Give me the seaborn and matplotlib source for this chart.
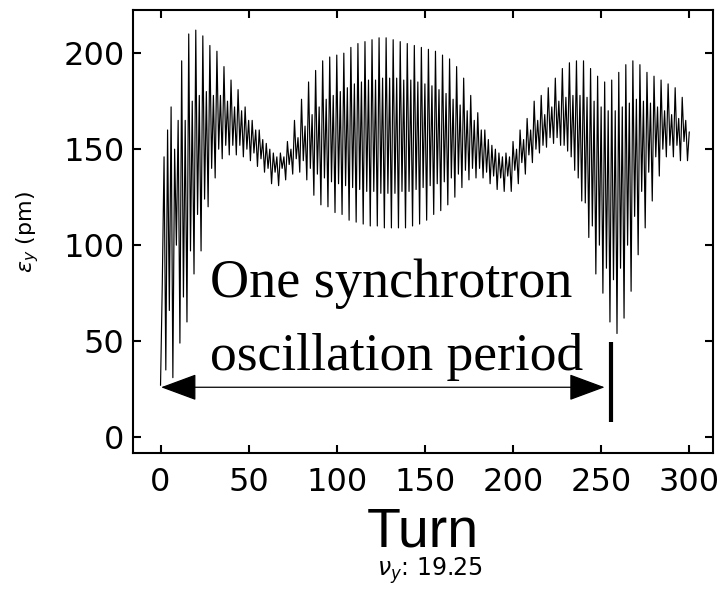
import matplotlib
matplotlib.use("Agg")
import matplotlib.pyplot as plt
from matplotlib.patches import FancyArrowPatch, ArrowStyle
import numpy as np
import pandas as pd
import seaborn as sns

# Vertical emittance per turn, grouped in 4-turn betatron cycles (nu_y = 19.25).
# Each cycle k covers turns 4k .. 4k+3: outer top, inner bottom, inner top, outer bottom.
outer_upper = [27, 160, 150, 196, 210, 212, 209, 204, 201, 193, 186, 181, 172, 165, 160,
               153, 148, 148, 154, 165, 176, 185, 191, 196, 198, 199, 200, 203, 205, 206,
               207, 208, 208, 207, 206, 205, 204, 203, 202, 201, 199, 197, 193, 187, 178,
               169, 160, 152, 148, 148, 154, 160, 166, 175, 178, 182, 187, 192, 195, 196,
               196, 192, 188, 185, 186, 190, 194, 196, 194, 190, 188, 186, 184, 182, 177,
               159]
inner_lower = [80, 66, 100, 73, 97, 116, 124, 140, 150, 152, 152, 152, 150, 148, 145,
               140, 138, 140, 142, 145, 144, 140, 137, 135, 133, 132, 131, 130, 129, 128,
               128, 127, 127, 127, 128, 128, 129, 130, 131, 132, 133, 135, 137, 139, 140,
               140, 138, 136, 135, 136, 139, 143, 147, 150, 152, 156, 156, 152, 146, 135,
               122, 110, 100, 88, 82, 88, 100, 115, 128, 138, 146, 150, 152, 152, 154]
inner_upper = [146, 172, 165, 165, 175, 178, 180, 178, 178, 175, 172, 170, 165, 160, 155,
               150, 146, 146, 150, 156, 162, 168, 172, 176, 178, 180, 182, 184, 185, 186,
               186, 187, 187, 187, 186, 186, 185, 184, 183, 181, 179, 176, 173, 170, 165,
               160, 155, 150, 146, 146, 150, 155, 160, 165, 168, 172, 175, 177, 178, 178,
               177, 175, 172, 170, 170, 172, 174, 176, 175, 174, 172, 170, 168, 166, 165]
outer_lower = [35, 31, 49, 60, 85, 97, 120, 135, 145, 147, 147, 146, 144, 141, 138,
               132, 131, 134, 137, 138, 134, 126, 121, 120, 117, 116, 113, 112, 111, 110,
               110, 109, 109, 109, 109, 110, 111, 113, 116, 118, 121, 125, 130, 134, 135,
               135, 132, 129, 128, 128, 132, 137, 143, 148, 151, 153, 152, 149, 139, 123,
               104, 85, 75, 60, 54, 62, 76, 95, 109, 123, 136, 146, 146, 144, 144]

x_ticks = [0, 50, 100, 150, 200, 250, 300]
y_ticks = [0, 50, 100, 150, 200]

turns, eps = [], []
for k in range(len(inner_lower)):
    for j, series in enumerate((outer_upper, inner_lower, inner_upper, outer_lower)):
        turns.append(4 * k + j)
        eps.append(series[k])
turns.append(4 * len(inner_lower))
eps.append(outer_upper[-1])
df = pd.DataFrame({"turn": turns, "eps": eps})

sns.set_style("ticks")
plt.rcParams["font.family"] = ["DejaVu Sans"]
plt.rcParams["text.color"] = "black"
plt.rcParams["axes.labelcolor"] = "black"

fig = plt.figure(figsize=(7.23, 5.97), dpi=100)
ax = fig.add_axes([0.184, 0.241, 0.802, 0.742])

sns.lineplot(data=df, x="turn", y="eps", estimator=None, sort=False,
             color="black", linewidth=0.85, ax=ax)

ax.set_xlim(-15.6, 313.4)
ax.set_ylim(-8.3, 222.4)
ax.set_xticks(x_ticks)
ax.set_yticks(y_ticks)
ax.tick_params(axis="both", which="major", direction="in", length=6, width=1.5,
               top=True, right=True, labelsize=23, colors="black")
ax.tick_params(axis="x", pad=10)
ax.tick_params(axis="y", pad=6)
for sp in ax.spines.values():
    sp.set_visible(True)
    sp.set_linewidth(1.5)
    sp.set_color("black")

ax.set_xlabel("Turn", fontsize=40, family="Liberation Sans", labelpad=6)
ax.set_ylabel(r"$\varepsilon_y$ (pm)", fontsize=16, labelpad=16)

fig.text(0.594, 0.035, r"$\nu_y$: 19.25", fontsize=17, ha="center", va="baseline")

# Synchrotron period annotation
ax.text(28, 73, "One synchrotron", fontsize=39, family="Liberation Serif",
        va="baseline", ha="left")
ax.text(28, 35, "oscillation period", fontsize=38.5, family="Liberation Serif",
        va="baseline", ha="left")
arrow = FancyArrowPatch((0.3, 26), (252, 26),
                        arrowstyle=ArrowStyle("<|-|>", head_length=23, head_width=8.5),
                        mutation_scale=1, lw=0.9, color="black",
                        shrinkA=0, shrinkB=0)
ax.add_patch(arrow)
ax.plot([255.5, 255.5], [8, 49.5], color="black", linewidth=3, solid_capstyle="butt")

fig.savefig("out.png", dpi=100)
